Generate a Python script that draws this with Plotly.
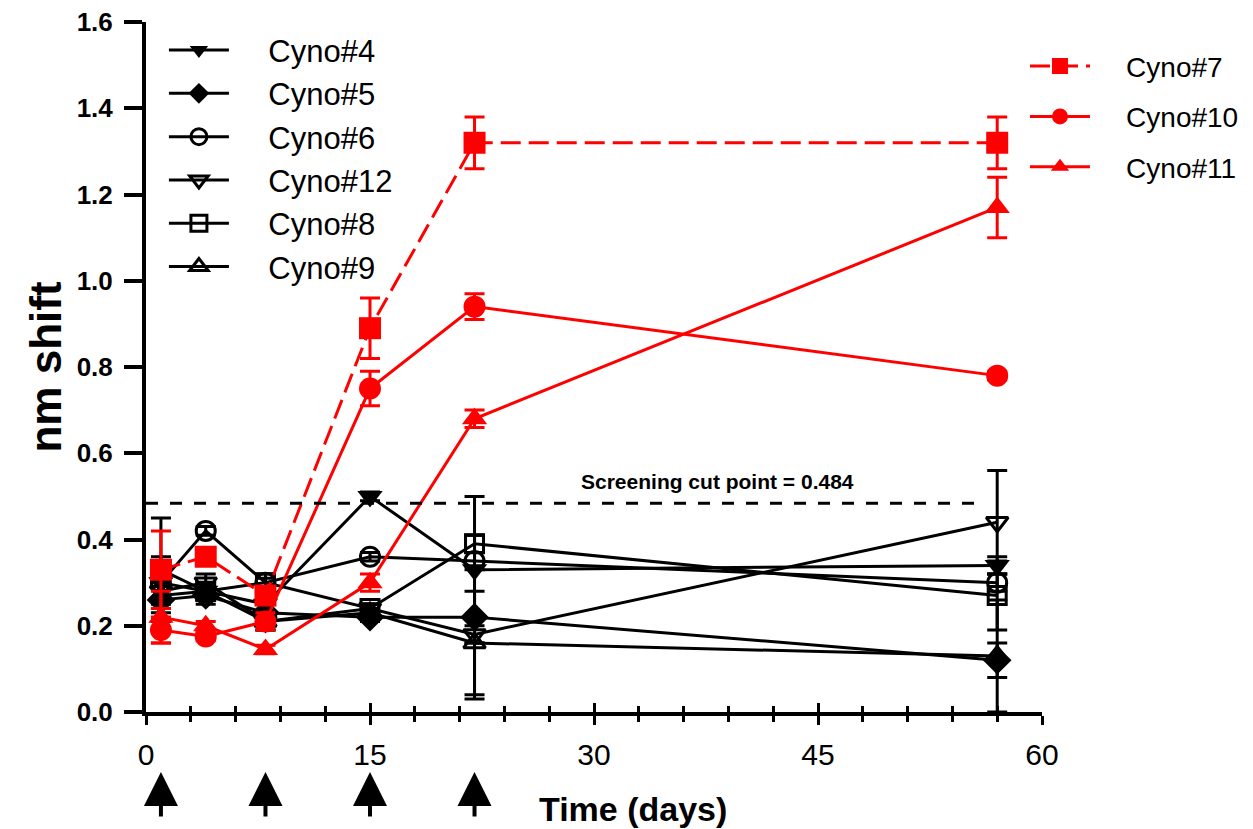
import plotly.graph_objects as go

days = [1, 4, 8, 15, 22, 57]

# red series
cyno7 = [0.33, 0.36, 0.27, 0.89, 1.32, 1.32]
err7 = [0.09, 0.02, 0.02, 0.07, 0.06, 0.06]
cyno10 = [0.19, 0.175, 0.21, 0.75, 0.94, 0.78]
err10 = [0.03, 0.01, 0.02, 0.04, 0.03, 0.01]
cyno11 = [0.22, 0.20, 0.145, 0.30, 0.68, 1.17]
err11 = [0.06, 0.01, 0.01, 0.02, 0.02, 0.07]

# black series
cyno4 = [0.30, 0.28, 0.25, 0.50, 0.33, 0.34]
err4 = [0.06, 0.02, 0.02, 0.01, 0.17, 0.02]
cyno5 = [0.26, 0.27, 0.23, 0.22, 0.22, 0.12]
err5 = [0.05, 0.02, 0.02, 0.01, 0.19, 0.04]
cyno6 = [0.30, 0.42, 0.30, 0.36, 0.35, 0.30]
err6 = [0.05, 0.01, 0.01, 0.01, 0.02, 0.02]
cyno12 = [0.28, 0.30, 0.21, 0.24, 0.18, 0.44]
err12 = [0.05, 0.02, 0.02, 0.01, 0.02, 0.12]
cyno8 = [0.33, 0.28, 0.30, 0.24, 0.39, 0.27]
err8 = [0.12, 0.02, 0.02, 0.01, 0.02, 0.08]
cyno9 = [0.27, 0.28, 0.21, 0.23, 0.16, 0.13]
err9 = [0.05, 0.02, 0.02, 0.01, 0.12, 0.13]

cut_point = 0.484
cut_days = [0, 56]
dose_days = [1, 8, 15, 22]

x_ticks = [0, 15, 30, 45, 60]
y_ticks = [0.0, 0.2, 0.4, 0.6, 0.8, 1.0, 1.2, 1.4, 1.6]

FONT = "Arial, Liberation Sans, sans-serif"
RED = "#ff0000"
BLACK = "#000000"
NB = "\u00a0"

fig = go.Figure()

def add(name, y, err, color, symbol, legend, pad, dash="solid", size=20, open_=False):
    fig.add_trace(go.Scatter(
        x=days, y=y, name=NB * pad + name, mode="lines+markers",
        line=dict(color=color, width=3, dash=dash),
        marker=dict(symbol=symbol, size=size, color=color,
                    line=dict(color=color, width=3 if open_ else 0)),
        error_y=dict(type="data", array=err, visible=True, color=color,
                     thickness=3, width=10),
        legend=legend, legendgroup=name,
    ))

# black series (legend 1)
add("Cyno#4", cyno4, err4, BLACK, "triangle-down", "legend", 4, size=22)
add("Cyno#5", cyno5, err5, BLACK, "diamond", "legend", 4, size=22)
add("Cyno#6", cyno6, err6, BLACK, "circle-open", "legend", 4, size=19, open_=True)
add("Cyno#12", cyno12, err12, BLACK, "triangle-down-open", "legend", 4, size=19, open_=True)
add("Cyno#8", cyno8, err8, BLACK, "square-open", "legend", 4, size=18, open_=True)
add("Cyno#9", cyno9, err9, BLACK, "triangle-up-open", "legend", 4, size=19, open_=True)

# red series (legend 2)
add("Cyno#7", cyno7, err7, RED, "square", "legend2", 4, dash="20px,8px", size=22)
add("Cyno#10", cyno10, err10, RED, "circle", "legend2", 4, size=22)
add("Cyno#11", cyno11, err11, RED, "triangle-up", "legend2", 4, size=22)

# screening cut line
fig.add_trace(go.Scatter(
    x=cut_days, y=[cut_point, cut_point], mode="lines",
    line=dict(color=BLACK, width=3, dash="12px,12px"),
    showlegend=False, hoverinfo="skip",
))

# invisible trace to carry the inside-tick overlay axis
fig.add_trace(go.Scatter(
    x=[0, 60], y=[0, 0], xaxis="x2", mode="markers",
    marker=dict(opacity=0), showlegend=False, hoverinfo="skip",
))

fig.add_annotation(
    x=38.3, y=cut_point, xref="x", yref="y", yshift=22,
    text="<b>Screening cut point = 0.484</b>", showarrow=False,
    font=dict(family=FONT, size=21, color=BLACK),
)

for d in dose_days:
    fig.add_annotation(
        x=d, y=-0.087, xref="x", yref="paper", ax=0, ay=46,
        text="", showarrow=True, arrowhead=2, arrowsize=1.7,
        arrowwidth=4, arrowcolor=BLACK,
    )

fig.add_annotation(
    x=0.5435, y=-0.171, xref="paper", yref="paper",
    text="<b>Time (days)</b>", showarrow=False,
    font=dict(family=FONT, size=34, color=BLACK),
)

fig.update_layout(
    width=1245, height=821,
    margin=dict(l=138, r=211, t=14, b=117, autoexpand=False),
    plot_bgcolor="white", paper_bgcolor="white",
    font=dict(family=FONT, color=BLACK),
    xaxis=dict(
        range=[0, 60], tickvals=x_ticks, ticks="outside", ticklen=9,
        tickwidth=3, tickcolor=BLACK, showline=True, linewidth=4,
        linecolor=BLACK, showgrid=False, zeroline=False,
        ticklabelstandoff=4, automargin=False,
        tickfont=dict(family=FONT, size=30, color=BLACK),
        minor=dict(dtick=3, ticks="outside", ticklen=6, tickwidth=3,
                   tickcolor=BLACK, showgrid=False),
    ),
    xaxis2=dict(
        range=[0, 60], overlaying="x", anchor="y", side="bottom",
        tickvals=x_ticks, ticks="inside", ticklen=9, tickwidth=3,
        tickcolor=BLACK, showticklabels=False, showline=False,
        showgrid=False, zeroline=False, automargin=False,
        minor=dict(dtick=3, ticks="inside", ticklen=6, tickwidth=3,
                   tickcolor=BLACK, showgrid=False),
    ),
    yaxis=dict(
        range=[0, 1.6], tickvals=y_ticks,
        ticktext=[f"<b>{v:.1f}</b>" for v in y_ticks],
        ticks="outside", ticklen=18, tickwidth=4, tickcolor=BLACK,
        showline=True, linewidth=4, linecolor=BLACK, showgrid=False,
        zeroline=False, automargin=False, ticklabelstandoff=6,
        ticklabeloverflow="allow",
        tickfont=dict(family=FONT, size=26, color=BLACK),
        title=dict(text="<b>nm shift</b>", standoff=2,
                   font=dict(family=FONT, size=44, color=BLACK)),
    ),
    legend=dict(
        x=0.02, y=0.998, xanchor="left", yanchor="top",
        bgcolor="rgba(0,0,0,0)", font=dict(family=FONT, size=31, color=BLACK),
        itemwidth=60, tracegroupgap=0,
    ),
    legend2=dict(
        x=0.981, y=0.972, xanchor="left", yanchor="top",
        bgcolor="rgba(0,0,0,0)", font=dict(family=FONT, size=28, color=BLACK),
        itemwidth=60, tracegroupgap=11,
    ),
)

fig.write_html("out.html")
